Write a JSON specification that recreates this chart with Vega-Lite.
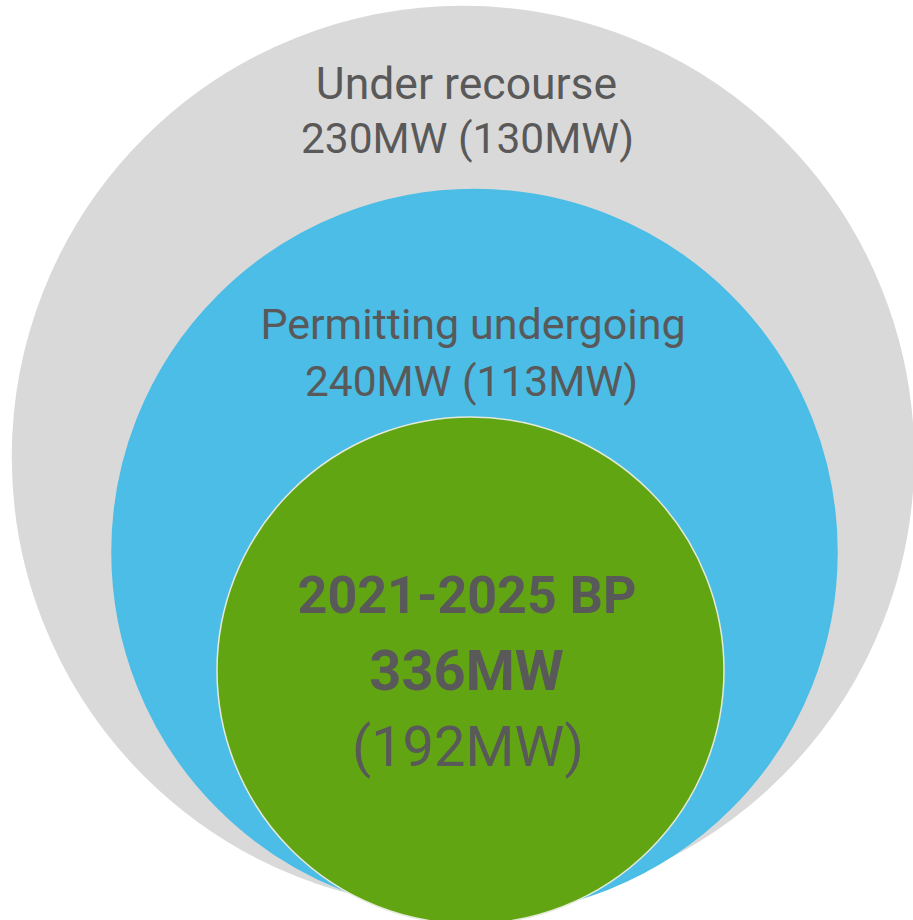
{
  "$schema": "https://vega.github.io/schema/vega-lite/v6.json",
  "width": 913,
  "height": 920,
  "autosize": "none",
  "padding": 0,
  "background": "white",
  "view": {"stroke": null},
  "config": {"text": {"font": "Roboto, sans-serif", "color": "#595959", "align": "center", "baseline": "alphabetic"}},
  "datasets": {
    "tiers": [
      {"tier": "Under recourse", "mw": 230, "mw_alt": 130},
      {"tier": "Permitting undergoing", "mw": 240, "mw_alt": 113},
      {"tier": "2021-2025 BP", "mw": 336, "mw_alt": 192}
    ],
    "lines": [
      {"rank": 1, "tier": "Under recourse", "part": "label", "text": "Under recourse"},
      {"rank": 2, "tier": "Under recourse", "part": "capacity", "text": "230MW (130MW)"},
      {"rank": 3, "tier": "Permitting undergoing", "part": "label", "text": "Permitting undergoing"},
      {"rank": 4, "tier": "Permitting undergoing", "part": "capacity", "text": "240MW (113MW)"},
      {"rank": 5, "tier": "2021-2025 BP", "part": "label", "text": "2021-2025 BP"},
      {"rank": 6, "tier": "2021-2025 BP", "part": "capacity", "text": "336MW"},
      {"rank": 7, "tier": "2021-2025 BP", "part": "alt", "text": "(192MW)"}
    ]
  },
  "resolve": {"scale": {"x": "independent", "y": "independent", "size": "independent", "color": "independent", "stroke": "independent"}},
  "layer": [
    {
      "data": {"name": "tiers"},
      "mark": {"type": "point", "shape": "circle", "filled": true, "opacity": 1, "strokeWidth": 1.5},
      "encoding": {
        "x": {"field": "mw", "type": "quantitative", "axis": null, "scale": {"domain": [230, 240, 336], "range": [463, 474.5, 470.5], "nice": false, "zero": false}},
        "y": {"field": "mw", "type": "quantitative", "axis": null, "scale": {"domain": [230, 240, 336], "range": [457, 552, 670.5], "nice": false, "zero": false}},
        "size": {"field": "mw", "type": "quantitative", "legend": null, "scale": {"domain": [230, 240, 336], "range": [811801, 525625, 257049], "zero": false}},
        "color": {"field": "tier", "type": "nominal", "legend": null, "scale": {"domain": ["Under recourse", "Permitting undergoing", "2021-2025 BP"], "range": ["#d9d9d9", "#4bbde6", "#62a513"]}},
        "stroke": {"field": "tier", "type": "nominal", "legend": null, "scale": {"domain": ["Under recourse", "Permitting undergoing", "2021-2025 BP"], "range": ["#d9d9d9", "#4bbde6", "#e4ead9"]}}
      }
    },
    {
      "data": {"name": "lines"},
      "transform": [{"filter": "datum.rank != 5 && datum.rank != 6"}],
      "mark": {"type": "text"},
      "encoding": {
        "x": {"field": "rank", "type": "quantitative", "axis": null, "scale": {"domain": [1, 2, 3, 4, 5, 6, 7], "range": [466.5, 467.5, 473, 471.5, 467, 466.5, 468], "nice": false, "zero": false}},
        "y": {"field": "rank", "type": "quantitative", "axis": null, "scale": {"domain": [1, 2, 3, 4, 5, 6, 7], "range": [99, 153, 339, 396, 613, 690, 766], "nice": false, "zero": false}},
        "size": {"field": "rank", "type": "quantitative", "legend": null, "scale": {"domain": [1, 2, 3, 4, 5, 6, 7], "range": [44.5, 42.5, 43, 42.5, 52, 56, 56], "zero": false}},
        "text": {"field": "text"}
      }
    },
    {
      "data": {"name": "lines"},
      "transform": [{"filter": "datum.rank == 5 || datum.rank == 6"}],
      "mark": {"type": "text", "fontWeight": "bold"},
      "encoding": {
        "x": {"field": "rank", "type": "quantitative", "axis": null, "scale": {"domain": [1, 2, 3, 4, 5, 6, 7], "range": [466.5, 467.5, 473, 471.5, 467, 466.5, 468], "nice": false, "zero": false}},
        "y": {"field": "rank", "type": "quantitative", "axis": null, "scale": {"domain": [1, 2, 3, 4, 5, 6, 7], "range": [99, 153, 339, 396, 613, 690, 766], "nice": false, "zero": false}},
        "size": {"field": "rank", "type": "quantitative", "legend": null, "scale": {"domain": [1, 2, 3, 4, 5, 6, 7], "range": [44.5, 42.5, 43, 42.5, 52, 56, 56], "zero": false}},
        "text": {"field": "text"}
      }
    }
  ]
}
